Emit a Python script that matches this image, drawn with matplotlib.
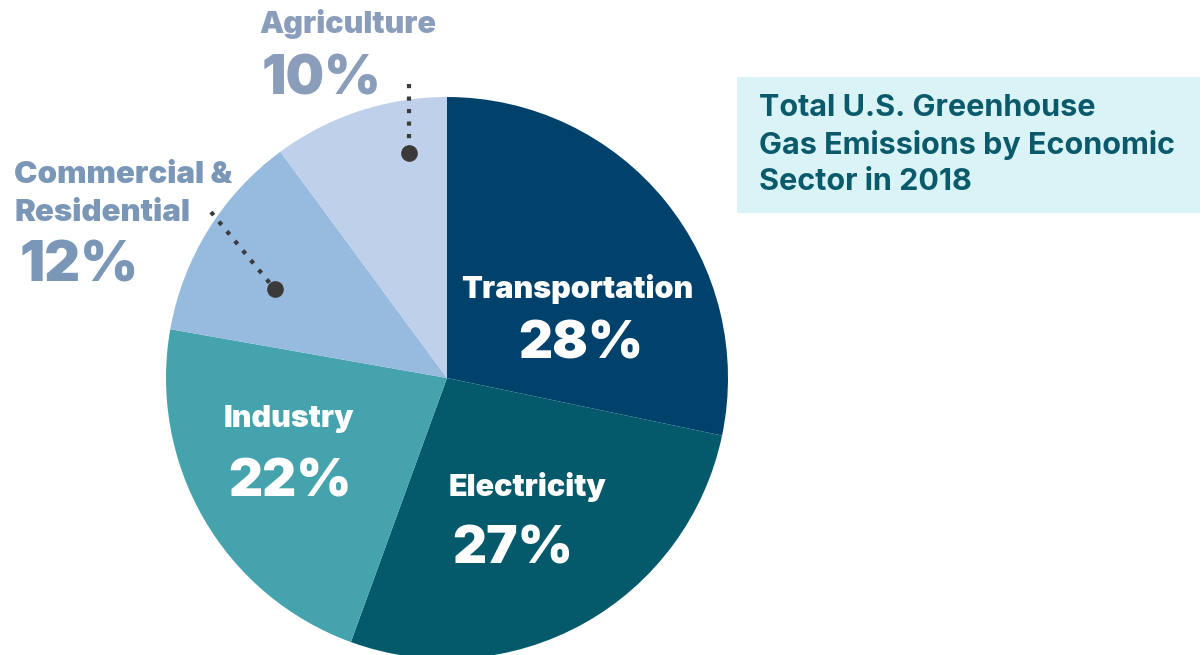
import matplotlib
matplotlib.use("Agg")
import matplotlib.pyplot as plt
from matplotlib.patches import Rectangle

sectors = ["Transportation", "Electricity", "Industry", "Commercial &\nResidential", "Agriculture"]
shares = [28, 27, 22, 12, 10]
colors = ["#00426b", "#045a6b", "#45a3ad", "#97badf", "#bfd0ea"]
title = "Total U.S. Greenhouse\nGas Emissions by Economic\nSector in 2018"

plt.rcParams["font.family"] = ["Inter", "DejaVu Sans"]

W, H = 1204, 655
fig = plt.figure(figsize=(W / 100, H / 100), dpi=100)
ax = fig.add_axes([0, 0, 1, 1])

# pie, clockwise from 12 o'clock, cut off at the bottom of the figure
ax.pie(shares, colors=colors, startangle=90, counterclock=False,
       center=(447, H - 378), radius=281, frame=True,
       wedgeprops=dict(linewidth=0))
ax.set_xlim(0, W)
ax.set_ylim(0, H)
ax.set_aspect("equal")
ax.axis("off")

def py(y):
    return H - y

# labels inside the slices: (label x, label y, pct x, pct y)
inside = [(577, 289, 581, 345), (527, 487, 513, 550), (289, 419, 290, 483)]
for i, (xl, yl, xp, yp) in enumerate(inside):
    ax.text(xl, py(yl), sectors[i], color="white", fontsize=22, fontweight="black",
            ha="center", va="center")
    ax.text(xp, py(yp), f"{shares[i]}%", color="white", fontsize=38, fontweight="black",
            ha="center", va="center")

# outside labels
c_com = "#7b97b8"
c_agr = "#8a9dbb"
ax.text(14, py(194), sectors[3], color=c_com, fontsize=22.5, fontweight="black",
        ha="left", va="center", linespacing=1.42)
ax.text(19, py(267), f"{shares[3]}%", color=c_com, fontsize=40, fontweight="black",
        ha="left", va="center")
ax.text(259, py(24), sectors[4], color=c_agr, fontsize=22, fontweight="black",
        ha="left", va="center")
ax.text(262, py(80), f"{shares[4]}%", color=c_agr, fontsize=39, fontweight="black",
        ha="left", va="center")

# leader lines
lc = "#3a3a3a"
ax.plot([409, 409], [py(84), py(150)], color=lc, lw=3, ls=(0, (1, 2)))
ax.plot([409], [py(153)], "o", color=lc, ms=11)
ax.plot([211, 273], [py(212), py(287)], color=lc, lw=3, ls=(0, (1, 2)))
ax.plot([275], [py(289)], "o", color=lc, ms=11)

# title box
ax.add_patch(Rectangle((737, py(213)), 463, 136, facecolor="#d9f3f7", edgecolor="none"))
ax.text(759, py(145), title, color="#0b5a6b", fontsize=22, fontweight="bold",
        ha="left", va="center", linespacing=1.33)

fig.savefig("out.png", dpi=100)
